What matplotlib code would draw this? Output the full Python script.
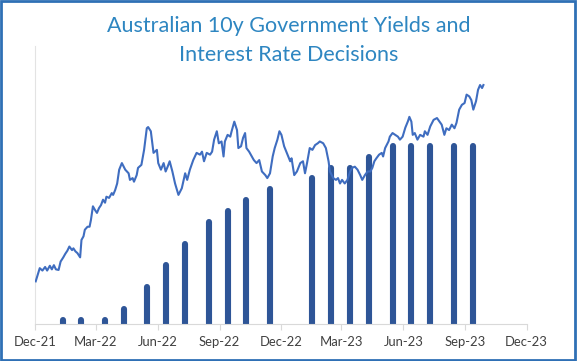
import datetime as dt
import matplotlib
matplotlib.use("Agg")
import matplotlib.pyplot as plt
import matplotlib.dates as mdates
from matplotlib.patches import Rectangle

plt.rcParams['font.family'] = ['Lato', 'DejaVu Sans']

# RBA cash rate decisions (%)
rba_dates = ["2022-02-01", "2022-03-01", "2022-04-05", "2022-05-03", "2022-06-07",
             "2022-07-05", "2022-08-02", "2022-09-06", "2022-10-04", "2022-11-01",
             "2022-12-06", "2023-02-07", "2023-03-07", "2023-04-04", "2023-05-02",
             "2023-06-06", "2023-07-04", "2023-08-01", "2023-09-05", "2023-10-03"]
cash_rate = [0.10, 0.10, 0.10, 0.35, 0.85, 1.35, 1.85, 2.35, 2.60, 2.85,
             3.10, 3.35, 3.60, 3.60, 3.85, 4.10, 4.10, 4.10, 4.10, 4.10]

# 10y government bond yield (%), days counted from 22 Dec 2021
base_date = dt.date(2021, 12, 22)
yield_days = [1, 7, 11, 15, 18, 22, 25, 28, 31, 35, 38, 42, 45, 48, 51, 55, 57, 60, 63, 67,
              69, 72, 74, 78, 81, 83, 86, 89, 92, 95, 98, 101, 104, 106, 110, 114, 116, 119, 122, 125,
              129, 134, 139, 141, 145, 147, 151, 153, 158, 162, 166, 168, 172, 176, 181, 183, 187, 191, 194, 197,
              200, 204, 208, 213, 218, 223, 226, 230, 235, 240, 245, 248, 251, 255, 260, 263, 266, 270, 273, 277,
              280, 282, 286, 290, 292, 296, 300, 302, 306, 309, 312, 314, 318, 322, 325, 329, 333, 337, 342, 345,
              349, 353, 356, 360, 363, 366, 370, 374, 379, 381, 385, 389, 394, 398, 401, 404, 408, 412, 416, 420,
              423, 428, 432, 436, 438, 443, 447, 450, 453, 456, 460, 464, 468, 471, 475, 479, 483, 486, 490, 494,
              498, 501, 504, 507, 511, 515, 517, 520, 525, 527, 531, 535, 539, 542, 546, 550, 554, 556, 559, 561,
              564, 568, 572, 577, 579, 583, 587, 592, 597, 602, 604, 608, 611, 615, 619, 623, 626, 630, 634, 638,
              641, 645, 648, 651, 655, 658, 661, 664, 666]
yields = [1.68, 1.90, 1.86, 1.92, 1.86, 1.94, 1.88, 1.95, 1.88, 1.87, 2.01, 2.08, 2.14, 2.19, 2.26, 2.20, 2.23, 2.18, 2.15, 2.08,
          2.37, 2.43, 2.54, 2.59, 2.59, 2.70, 2.93, 2.87, 2.82, 2.90, 2.95, 3.04, 2.99, 3.09, 3.07, 3.15, 3.12, 3.20, 3.31, 3.54,
          3.65, 3.54, 3.48, 3.37, 3.40, 3.34, 3.45, 3.57, 3.62, 3.87, 4.23, 4.25, 4.18, 3.82, 3.87, 3.65, 3.54, 3.65, 3.51, 3.59,
          3.68, 3.51, 3.31, 3.12, 3.23, 3.48, 3.37, 3.54, 3.70, 3.82, 3.79, 3.84, 3.68, 3.82, 3.79, 3.84, 4.04, 4.18, 3.98, 4.01,
          3.76, 4.01, 4.12, 4.09, 4.18, 4.34, 4.20, 3.90, 3.93, 4.07, 4.15, 3.90, 3.84, 3.76, 3.70, 3.65, 3.70, 3.51, 3.45, 3.40,
          3.48, 3.76, 3.90, 4.04, 4.18, 4.12, 3.93, 3.82, 3.68, 3.73, 3.45, 3.51, 3.65, 3.68, 3.48, 3.65, 3.90, 3.87, 3.95, 3.98,
          4.01, 3.98, 3.90, 3.68, 3.51, 3.40, 3.37, 3.40, 3.31, 3.37, 3.31, 3.37, 3.51, 3.57, 3.59, 3.54, 3.45, 3.37, 3.45, 3.51,
          3.51, 3.57, 3.68, 3.73, 3.79, 3.82, 3.76, 3.90, 4.01, 4.09, 4.15, 4.12, 4.09, 4.04, 4.09, 4.24, 4.35, 4.42, 4.34, 4.12,
          4.15, 4.04, 4.12, 4.09, 4.18, 4.12, 4.26, 4.37, 4.40, 4.32, 4.29, 4.12, 4.23, 4.20, 4.29, 4.23, 4.32, 4.54, 4.62, 4.65,
          4.79, 4.76, 4.70, 4.54, 4.68, 4.87, 4.95, 4.90, 4.95]

tick_dates = ["2021-12-22", "2022-03-22", "2022-06-22", "2022-09-22", "2022-12-22",
              "2023-03-22", "2023-06-22", "2023-09-22", "2023-12-22"]

title_lines = ["Australian 10y Government Yields and", "Interest Rate Decisions"]

bar_x = [dt.date.fromisoformat(d) for d in rba_dates]
line_x = [base_date + dt.timedelta(days=d) for d in yield_days]
ticks = [dt.date.fromisoformat(d) for d in tick_dates]

fig = plt.figure(figsize=(5.77, 3.61), dpi=100)
ax = fig.add_axes([0.0607, 0.1025, 0.8518, 0.7701])

ax.vlines(bar_x, 0, cash_rate, colors="#2E5597", linewidth=4.4, capstyle="round", zorder=2)
ax.set_ylim(0, 6.40)
ax.set_xlim(ticks[0], ticks[-1])
ax.set_xticks(ticks)
ax.xaxis.set_major_formatter(mdates.DateFormatter("%b-%y"))
ax.set_yticks([])
for s in ["top", "right"]:
    ax.spines[s].set_visible(False)
ax.spines["left"].set_color("#E3E3E3")
ax.spines["bottom"].set_color("#D9D9D9")
ax.tick_params(axis="x", direction="out", length=4, color="#D9D9D9", labelcolor="#404040",
               labelsize=9.4, pad=5)

ax2 = ax.twinx()
ax2.plot(line_x, yields, color="#3F6DC0", linewidth=1.5, zorder=3)
ax2.set_ylim(0.97, 5.60)
ax2.set_yticks([])
for s in ax2.spines.values():
    s.set_visible(False)

fig.text(0.5, 0.928, title_lines[0], ha="center", va="center", color="#2E86C1", fontsize=15.5)
fig.text(0.5, 0.848, title_lines[1], ha="center", va="center", color="#2E86C1", fontsize=15.5)

fig.patches.append(Rectangle((0.002, 0.003), 0.995, 0.994, transform=fig.transFigure,
                             fill=False, edgecolor="#2F70B5", linewidth=2))

fig.savefig("out.png", dpi=100)
